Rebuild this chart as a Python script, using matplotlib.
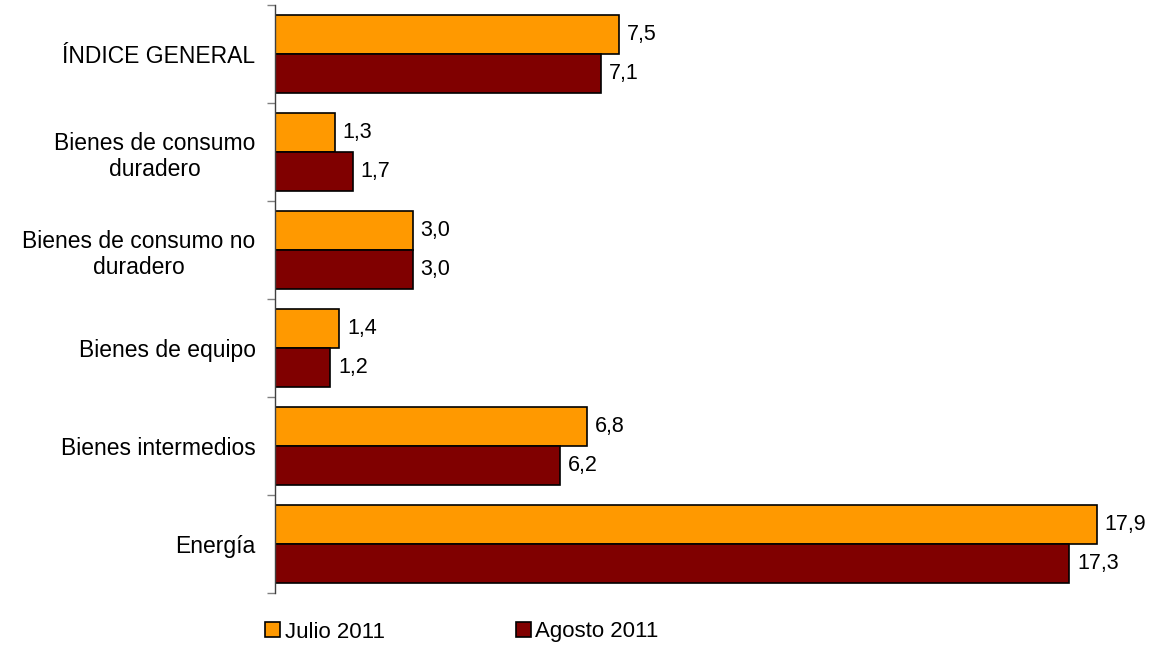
import matplotlib
matplotlib.use("Agg")
import matplotlib.pyplot as plt
from matplotlib.patches import Patch
import numpy as np

plt.rcParams['font.family'] = ['Liberation Sans', 'DejaVu Sans']

categories = ["ÍNDICE GENERAL", "Bienes de consumo\nduradero", "Bienes de consumo no\nduradero",
              "Bienes de equipo", "Bienes intermedios", "Energía"]
julio = [7.5, 1.3, 3.0, 1.4, 6.8, 17.9]
agosto = [7.1, 1.7, 3.0, 1.2, 6.2, 17.3]
series_names = ["Julio 2011", "Agosto 2011"]
colors = ["#FF9900", "#800000"]

fig = plt.figure(figsize=(11.52, 6.47), dpi=100)
ax = fig.add_axes([275/1152, 1-593/647, 1-275/1152, 588/647])

y = np.arange(len(categories))
h = 0.393
ax.barh(y - h/2, julio, height=h, color=colors[0], edgecolor='black', linewidth=1.2)
ax.barh(y + h/2, agosto, height=h, color=colors[1], edgecolor='black', linewidth=1.2)

for yi, v in zip(y - h/2, julio):
    ax.text(v + 0.17, yi, f"{v:.1f}".replace('.', ','), va='center', ha='left', fontsize=15.5)
for yi, v in zip(y + h/2, agosto):
    ax.text(v + 0.17, yi, f"{v:.1f}".replace('.', ','), va='center', ha='left', fontsize=15.5)

ax.set_xlim(0, (1152-275)/45.92)
ax.set_ylim(len(categories) - 0.5, -0.5)
ax.set_yticks(np.arange(len(categories) + 1) - 0.5)
ax.set_yticklabels([])
ax.tick_params(axis='y', which='major', length=6, color='#808080', width=1)
ax.set_yticks(y, minor=True)
ax.set_yticklabels(categories, minor=True, fontsize=16.5, ha='right', multialignment='center')
ax.tick_params(axis='y', which='minor', length=0, pad=14)
ax.set_xticks([])
for s in ['top', 'right', 'bottom']:
    ax.spines[s].set_visible(False)
ax.spines['left'].set_color('#404040')
ax.spines['left'].set_linewidth(1)

handles = [Patch(facecolor=c, edgecolor='black', linewidth=1.2) for c in colors]
fig.legend(handles, series_names, ncol=2, loc='center left',
           bbox_to_anchor=(245/1152, 1-632/647), frameon=False, fontsize=16,
           handlelength=0.68, handleheight=0.68, handletextpad=0.2, columnspacing=5.9)

fig.savefig("out.png", dpi=100)
